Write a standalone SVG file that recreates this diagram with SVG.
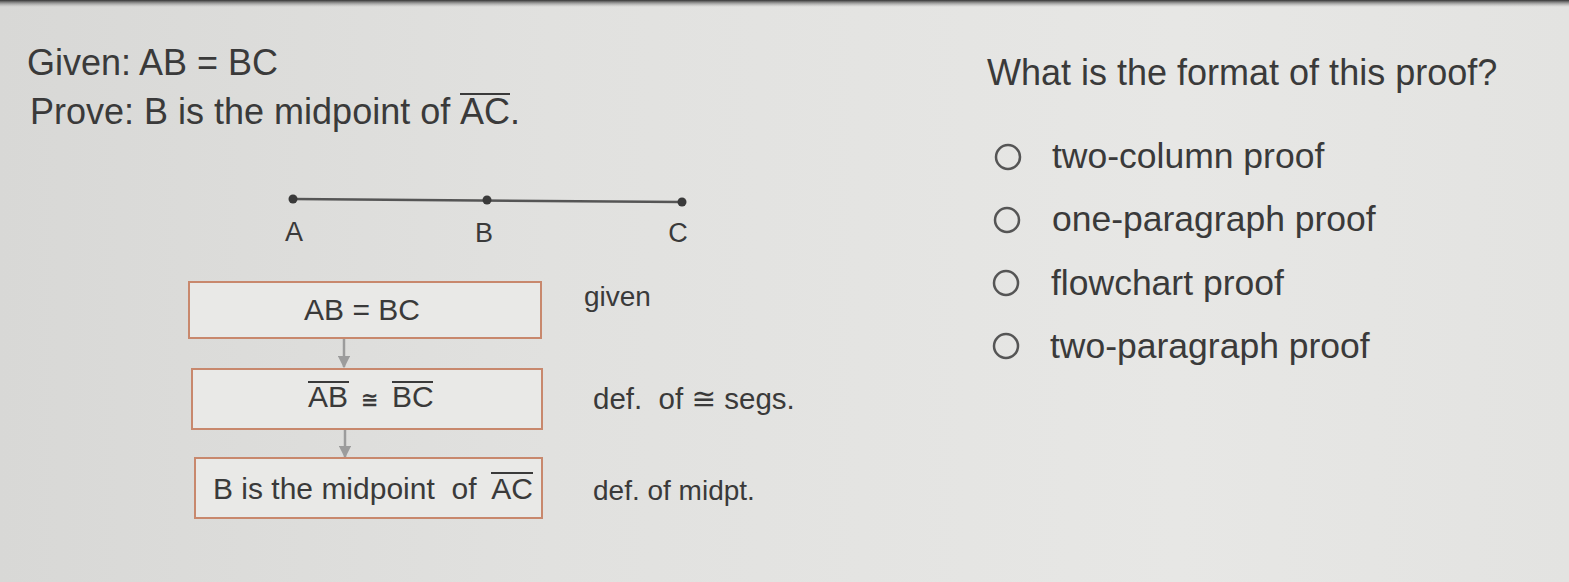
<svg xmlns="http://www.w3.org/2000/svg" width="1569" height="582" viewBox="0 0 1569 582">
  <defs>
    <linearGradient id="bg" x1="0" y1="0" x2="1" y2="0">
      <stop offset="0" stop-color="#d8d8d6"/>
      <stop offset="0.35" stop-color="#e1e1df"/>
      <stop offset="0.75" stop-color="#e7e7e5"/>
      <stop offset="1" stop-color="#e3e3e1"/>
    </linearGradient>
    <linearGradient id="topbar" x1="0" y1="0" x2="0" y2="1">
      <stop offset="0" stop-color="#333333"/>
      <stop offset="1" stop-color="#9a9a9a" stop-opacity="0"/>
    </linearGradient>
    <marker id="arrow" viewBox="0 0 10 10" refX="9" refY="5" markerWidth="5" markerHeight="5" orient="auto" markerUnits="strokeWidth">
      <path d="M0,0 L10,5 L0,10 z" fill="#9c9c9c"/>
    </marker>
    <style>
      text { font-family: "Liberation Sans", Arial, "DejaVu Sans", sans-serif; fill: #3a3a3a; }
      .big { font-size: 36px; }
      .opt { font-size: 35.5px; }
      .pt { font-size: 27px; }
      .box { fill: #e9e9e7; stroke: #c8886d; stroke-width: 2; }
      .reason { font-size: 28px; }
      .reason.wide { font-size: 29.5px; }
      .inbox { font-size: 30px; }
      .cong { font-size: 21px; font-weight: bold; }
      .bar { stroke: #3a3a3a; stroke-width: 2; }
      .radio { fill: none; stroke: #555; stroke-width: 2.5; }
      .conn { stroke: #9c9c9c; stroke-width: 2.5; fill: none; }
    </style>
  </defs>

  <rect x="0" y="0" width="1569" height="582" fill="url(#bg)"/>
  <rect x="0" y="0" width="1569" height="7" fill="url(#topbar)"/>

  <g id="given-statement">
    <text class="big" x="27" y="75">Given: AB = BC</text>
  </g>
  <g id="prove-statement">
    <text class="big" x="30" y="124">Prove: B is the midpoint of</text>
    <text class="big" x="460" y="124">AC.</text>
    <line class="bar" x1="460" y1="94" x2="510" y2="94"/>
  </g>

  <g id="segment">
    <line x1="293" y1="199" x2="682" y2="202" stroke="#555" stroke-width="2.5"/>
    <circle cx="293" cy="199" r="4.5" fill="#3a3a3a"/>
    <circle cx="487" cy="200" r="4.5" fill="#3a3a3a"/>
    <circle cx="682" cy="202" r="4.5" fill="#3a3a3a"/>
    <text class="pt" x="294" y="241" text-anchor="middle">A</text>
    <text class="pt" x="484" y="242" text-anchor="middle">B</text>
    <text class="pt" x="678" y="242" text-anchor="middle">C</text>
  </g>

  <g id="connectors">
    <line class="conn" x1="344" y1="339" x2="344" y2="367" marker-end="url(#arrow)"/>
    <line class="conn" x1="345" y1="430" x2="345" y2="457" marker-end="url(#arrow)"/>
  </g>

  <g id="step1">
    <rect class="box" x="189" y="282" width="352" height="56"/>
    <text class="inbox" x="362" y="320" text-anchor="middle">AB = BC</text>
  </g>
  <g id="reason1">
    <text class="reason" x="584" y="306">given</text>
  </g>

  <g id="step2">
    <rect class="box" x="192" y="369" width="350" height="60"/>
    <text class="inbox" x="308" y="407">AB</text>
    <text class="cong" x="361" y="407">≅</text>
    <text class="inbox" x="392" y="407">BC</text>
    <line class="bar" x1="308" y1="382" x2="349" y2="382"/>
    <line class="bar" x1="392" y1="382" x2="433" y2="382"/>
  </g>
  <g id="reason2">
    <text class="reason wide" x="593" y="409" xml:space="preserve">def.  of ≅ segs.</text>
  </g>

  <g id="step3">
    <rect class="box" x="195" y="458" width="347" height="60"/>
    <text class="inbox" x="213" y="499" xml:space="preserve">B is the midpoint  of</text>
    <text class="inbox" x="533" y="499" text-anchor="end">AC</text>
    <line class="bar" x1="491" y1="473" x2="533" y2="473"/>
  </g>
  <g id="reason3">
    <text class="reason" x="593" y="500">def. of midpt.</text>
  </g>

  <g id="question">
    <text class="big" x="987" y="85">What is the format of this proof?</text>
  </g>
  <g id="option1">
    <circle class="radio" cx="1008" cy="157" r="12"/>
    <text class="opt" x="1052" y="168">two-column proof</text>
  </g>
  <g id="option2">
    <circle class="radio" cx="1007" cy="220" r="12"/>
    <text class="opt" x="1052" y="231">one-paragraph proof</text>
  </g>
  <g id="option3">
    <circle class="radio" cx="1006" cy="283" r="12"/>
    <text class="opt" x="1051" y="295">flowchart proof</text>
  </g>
  <g id="option4">
    <circle class="radio" cx="1006" cy="346" r="12"/>
    <text class="opt" x="1050" y="358">two-paragraph proof</text>
  </g>
</svg>
